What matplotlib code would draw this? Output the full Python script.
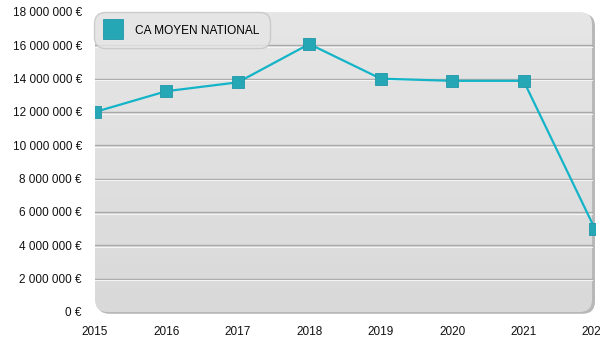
import numpy as np
import matplotlib.pyplot as plt
from matplotlib.colors import LinearSegmentedColormap
from matplotlib.patches import FancyBboxPatch
from matplotlib.ticker import FuncFormatter

plt.rcParams['font.family'] = ['Liberation Sans', 'DejaVu Sans']

years = [2015, 2016, 2017, 2018, 2019, 2020, 2021, 2022]
ca_moyen = [12000000, 13250000, 13780000, 16080000, 14000000, 13870000, 13870000, 4980000]
y_ticks = [0, 2000000, 4000000, 6000000, 8000000, 10000000, 12000000, 14000000, 16000000, 18000000]

line_color = '#14b4c8'
marker_color = '#26a7b5'

fig = plt.figure(figsize=(6, 3.5), dpi=100)
ax = fig.add_axes([95 / 600, 38 / 350, 500 / 600, 300 / 350])
ax.patch.set_visible(False)
for s in ax.spines.values():
    s.set_visible(False)

# rounded panel with a soft vertical gradient
panel_shadow = FancyBboxPatch((0.004, -0.006), 0.996, 1.0, boxstyle='round,pad=0,rounding_size=0.025',
                              transform=ax.transAxes, facecolor='#b8b8b8', edgecolor='none',
                              mutation_aspect=500 / 300, zorder=0, clip_on=False)
ax.add_patch(panel_shadow)
panel = FancyBboxPatch((0, 0), 0.994, 1.0, boxstyle='round,pad=0,rounding_size=0.025',
                       transform=ax.transAxes, facecolor='none', edgecolor='none',
                       mutation_aspect=500 / 300, zorder=0.5, clip_on=False)
ax.add_patch(panel)
grad = np.linspace(0, 1, 256).reshape(-1, 1)
img = ax.imshow(grad, cmap=LinearSegmentedColormap.from_list('g', ['#e6e6e6', '#d9d9d9']),
                extent=[2015, 2022, 0, 18000000], origin='upper', aspect='auto', zorder=0.6)
img.set_clip_path(panel)
ax.set_xlim(2015, 2022)
ax.set_ylim(0, 18000000)

# embossed grid lines
for v in y_ticks[1:-1]:
    ax.axhline(v, xmax=0.994, color='#a9a9a9', lw=1.0, zorder=1)
    ax.axhline(v - 90000, xmax=0.994, color='#f4f4f4', lw=0.8, zorder=1)

ax.plot(years, ca_moyen, color=line_color, lw=1.6, zorder=3)
ax.plot(years, ca_moyen, ls='none', marker='s', ms=9, mfc=marker_color, mec='#2097a6',
        mew=0.6, zorder=4, label='CA MOYEN NATIONAL')

ax.set_xticks(years)
ax.set_xticklabels([str(y) for y in years])
ax.set_yticks(y_ticks)
ax.yaxis.set_major_formatter(FuncFormatter(lambda v, p: '{:,.0f} €'.format(v).replace(',', ' ')))
ax.tick_params(length=0, labelsize=8.5, colors='#111111')
ax.tick_params(axis='y', pad=9.5)
ax.tick_params(axis='x', pad=10)
for lbl in ax.get_xticklabels() + ax.get_yticklabels():
    lbl.set_clip_on(False)

leg = ax.legend(loc='upper left', bbox_to_anchor=(-0.002, 1.0), frameon=True, fontsize=8.6,
                handlelength=1.2, handleheight=1.3, handletextpad=1.25, borderpad=0.95,
                markerscale=1.6, borderaxespad=0.0, fancybox=True,
                facecolor='#e6e6e6', edgecolor='#c4c4c4')
leg.get_frame().set_linewidth(1.0)
leg.get_frame().set_boxstyle('round,pad=0,rounding_size=0.9')
leg.set_zorder(5)

fig.savefig('out.png', dpi=100)
